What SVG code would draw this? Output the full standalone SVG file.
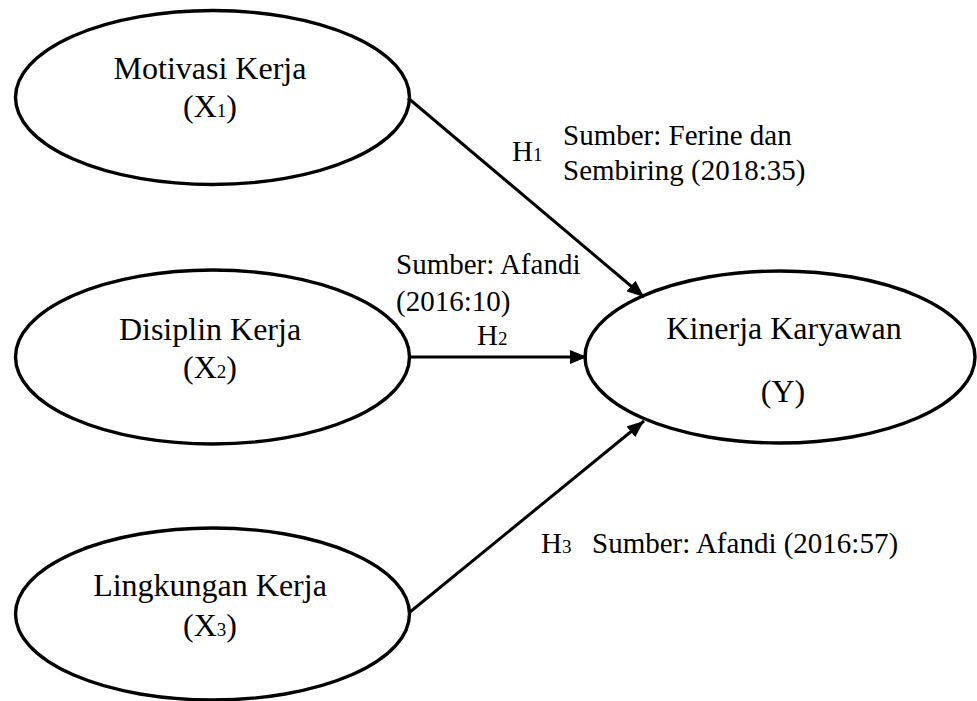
<svg xmlns="http://www.w3.org/2000/svg" width="977" height="701" viewBox="0 0 977 701">
<style>
.node{fill:#fff;stroke:#000;stroke-width:3.4}
.lbl{font-family:"Liberation Serif","Times New Roman",serif;font-size:32px;fill:#000;text-anchor:middle}
.src{font-family:"Liberation Serif","Times New Roman",serif;font-size:29px;fill:#000}
.sub{font-size:19px}
.edge{stroke:#000;stroke-width:3;fill:none}
</style>
<defs>
<marker id="ah" markerUnits="userSpaceOnUse" markerWidth="18" markerHeight="14" refX="17" refY="7" orient="auto">
<path d="M0,0 L17,7 L0,14 z" fill="#000"/>
</marker>
</defs>
<rect width="977" height="701" fill="#fff"/>
<g id="x1">
<ellipse class="node" cx="212.5" cy="97.5" rx="197" ry="87"/>
<text class="lbl" x="210" y="79">Motivasi Kerja</text>
<text class="lbl" x="210" y="117">(X<tspan class="sub">1</tspan>)</text>
</g>
<g id="x2">
<ellipse class="node" cx="212.5" cy="357" rx="197" ry="87"/>
<text class="lbl" x="210" y="340">Disiplin Kerja</text>
<text class="lbl" x="210" y="378">(X<tspan class="sub">2</tspan>)</text>
</g>
<g id="x3">
<ellipse class="node" cx="212.5" cy="614" rx="197" ry="86"/>
<text class="lbl" x="210" y="596">Lingkungan Kerja</text>
<text class="lbl" x="210" y="636">(X<tspan class="sub">3</tspan>)</text>
</g>
<g id="y">
<ellipse class="node" cx="780" cy="357" rx="195" ry="86"/>
<text class="lbl" x="784" y="339">Kinerja Karyawan</text>
<text class="lbl" x="783" y="402">(Y)</text>
</g>
<g id="connectors">
<line class="edge" x1="408" y1="98" x2="644" y2="297" marker-end="url(#ah)"/>
<line class="edge" x1="409" y1="357" x2="587" y2="357" marker-end="url(#ah)"/>
<line class="edge" x1="410" y1="612" x2="644" y2="421" marker-end="url(#ah)"/>
</g>
<g id="labels">
<text class="src" x="512" y="161">H<tspan class="sub">1</tspan></text>
<text class="src" x="563" y="145">Sumber: Ferine dan</text>
<text class="src" x="563" y="180">Sembiring (2018:35)</text>
<text class="src" x="396" y="274">Sumber: Afandi</text>
<text class="src" x="396" y="311">(2016:10)</text>
<text class="src" x="477" y="345">H<tspan class="sub">2</tspan></text>
<text class="src" x="541" y="553">H<tspan class="sub">3</tspan></text>
<text class="src" x="592" y="553">Sumber: Afandi (2016:57)</text>
</g>
</svg>
